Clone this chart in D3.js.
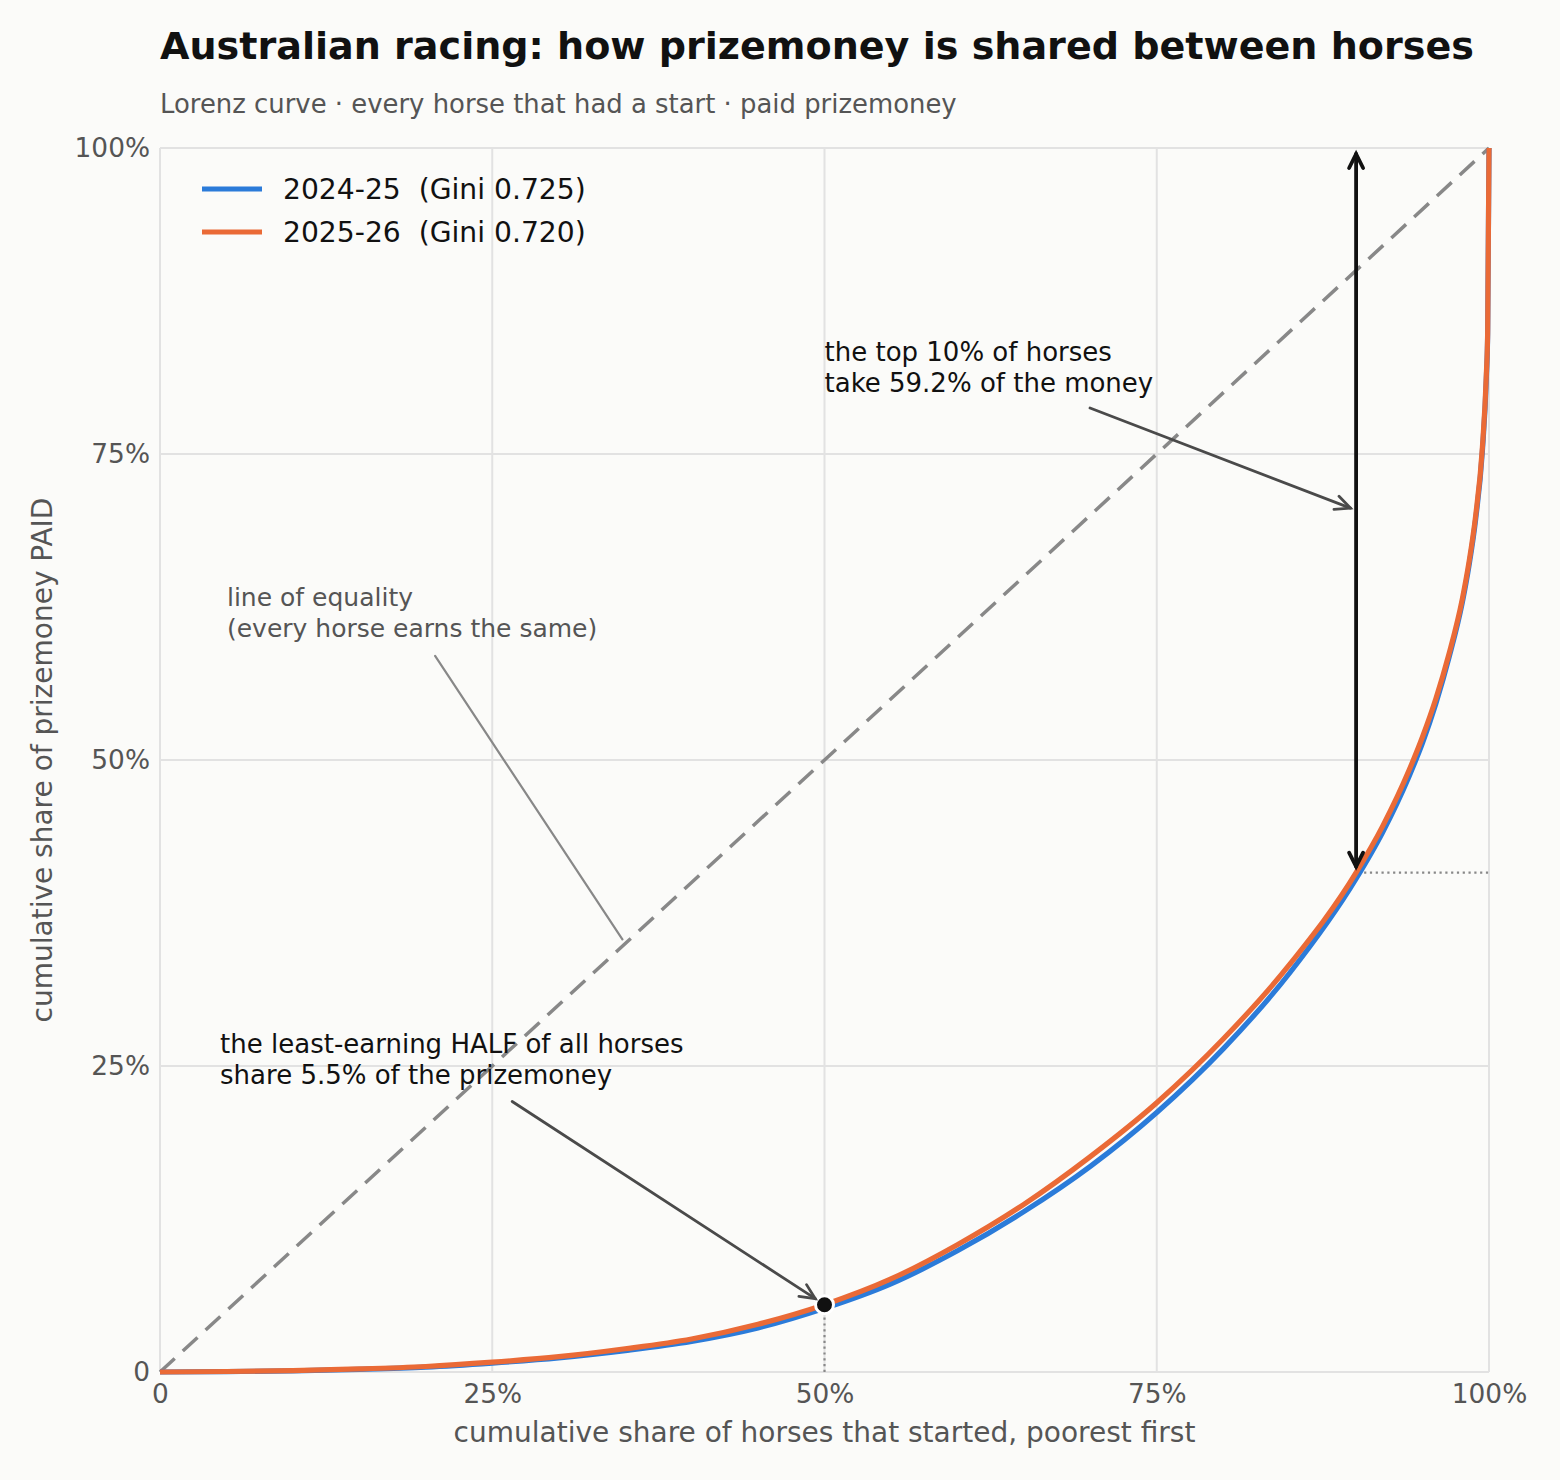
<!DOCTYPE html>
<html>
<head>
<meta charset="utf-8">
<script src="https://cdn.jsdelivr.net/npm/d3@7"></script>
<style>
  body { margin: 0; background: #fbfbf9; }
  svg { display: block; font-family: "DejaVu Sans", sans-serif; }
</style>
</head>
<body>
<div id="chart"></div>
<script>
/* DATA */
// cumulative share of horses (poorest first)
const popShare = [0, 0.05, 0.10, 0.15, 0.20, 0.25, 0.30, 0.35, 0.40, 0.45, 0.50, 0.55, 0.60, 0.65, 0.70,
  0.75, 0.80, 0.85, 0.90, 0.92, 0.94, 0.95, 0.96, 0.97, 0.98, 0.985, 0.99, 0.995, 0.998, 0.999, 1.0];
// cumulative share of prizemoney
const money2425 = [0, 0.0003, 0.0010, 0.0022, 0.0040, 0.0073, 0.0115, 0.0175, 0.025, 0.036, 0.052, 0.072, 0.099, 0.131, 0.168,
  0.212, 0.264, 0.326, 0.403, 0.441, 0.487, 0.514, 0.546, 0.584, 0.629, 0.659, 0.697, 0.752, 0.812, 0.848, 1.0];
const money2526 = [0, 0.0004, 0.0012, 0.0025, 0.0045, 0.0080, 0.0125, 0.019, 0.027, 0.039, 0.055, 0.076, 0.104, 0.137, 0.176,
  0.220, 0.272, 0.333, 0.408, 0.446, 0.492, 0.519, 0.550, 0.587, 0.632, 0.662, 0.700, 0.755, 0.815, 0.850, 1.0];
const seasons = ["2024-25", "2025-26"];
const giniValues = [0.725, 0.720];
const tickValues = [0, 0.25, 0.5, 0.75, 1];
const tickLabels = ["0", "25%", "50%", "75%", "100%"];
const bottomHalfShare = 0.055;   // least-earning half
const top10Share = 0.592;        // top 10%

/* CONSTANTS */
const width = 1560, height = 1480,
  margin = { top: 148, bottom: 108, left: 160, right: 71 };
const colors = ["#2b7bd9", "#ea6a36"];
const grey = "#555";

const svg = d3.select("#chart").append("svg")
  .attr("width", width)
  .attr("height", height);

svg.append("rect").attr("width", width).attr("height", height).attr("fill", "#fbfbf9");

const xScale = d3.scaleLinear().domain([0, 1]).range([margin.left, width - margin.right]);
const yScale = d3.scaleLinear().domain([0, 1]).range([height - margin.bottom, margin.top]);

// grid
svg.append("g").selectAll("line.gx").data(tickValues).join("line")
  .attr("x1", d => xScale(d)).attr("x2", d => xScale(d))
  .attr("y1", yScale(0)).attr("y2", yScale(1))
  .attr("stroke", "#e2e2e2").attr("stroke-width", 2);
svg.append("g").selectAll("line.gy").data(tickValues).join("line")
  .attr("y1", d => yScale(d)).attr("y2", d => yScale(d))
  .attr("x1", xScale(0)).attr("x2", xScale(1))
  .attr("stroke", "#e2e2e2").attr("stroke-width", 2);

// axes (labels only, no tick marks or domain)
const xAxis = d3.axisBottom(xScale).tickValues(tickValues)
  .tickFormat((d, i) => tickLabels[i]).tickSize(0).tickPadding(12);
const yAxis = d3.axisLeft(yScale).tickValues(tickValues)
  .tickFormat((d, i) => tickLabels[i]).tickSize(0).tickPadding(10);

svg.append("g")
  .attr("transform", `translate(0,${yScale(0)})`)
  .call(xAxis)
  .call(g => g.select(".domain").remove())
  .selectAll("text").attr("font-size", 26.4).attr("fill", grey).attr("font-family", "DejaVu Sans");

svg.append("g")
  .attr("transform", `translate(${xScale(0)},0)`)
  .call(yAxis)
  .call(g => g.select(".domain").remove())
  .selectAll("text").attr("font-size", 26.4).attr("fill", grey).attr("font-family", "DejaVu Sans");

// axis titles
svg.append("text")
  .attr("x", (xScale(0) + xScale(1)) / 2).attr("y", 1442)
  .attr("text-anchor", "middle").attr("font-size", 28).attr("fill", grey)
  .text("cumulative share of horses that started, poorest first");

svg.append("text")
  .attr("transform", `translate(52,${(yScale(0) + yScale(1)) / 2}) rotate(-90)`)
  .attr("text-anchor", "middle").attr("font-size", 28).attr("fill", grey)
  .text("cumulative share of prizemoney PAID");

// title + subtitle
svg.append("text").attr("x", 160).attr("y", 59)
  .attr("font-size", 38.1).attr("font-weight", "bold").attr("fill", "#111")
  .text("Australian racing: how prizemoney is shared between horses");
svg.append("text").attr("x", 160).attr("y", 113)
  .attr("font-size", 25.9).attr("fill", grey)
  .text("Lorenz curve \u00b7 every horse that had a start \u00b7 paid prizemoney");

// line of equality
svg.append("line")
  .attr("x1", xScale(0)).attr("y1", yScale(0))
  .attr("x2", xScale(1)).attr("y2", yScale(1))
  .attr("stroke", "#888").attr("stroke-width", 3.5)
  .attr("stroke-dasharray", "20,11");

// dotted guides
svg.append("line")
  .attr("x1", xScale(0.5)).attr("x2", xScale(0.5))
  .attr("y1", yScale(0)).attr("y2", yScale(bottomHalfShare))
  .attr("stroke", "#888").attr("stroke-width", 2.2).attr("stroke-dasharray", "2.2,3.6");
svg.append("line")
  .attr("x1", xScale(0.9) + 8).attr("x2", xScale(1))
  .attr("y1", yScale(1 - top10Share)).attr("y2", yScale(1 - top10Share))
  .attr("stroke", "#888").attr("stroke-width", 2.2).attr("stroke-dasharray", "2.2,3.6");

// Lorenz curves
const series = [money2425, money2526];
const line = d3.line()
  .x((d, i) => xScale(popShare[i]))
  .y(d => yScale(d))
  .curve(d3.curveMonotoneX);

svg.append("g").selectAll("path").data(series).join("path")
  .attr("d", d => line(d))
  .attr("fill", "none")
  .attr("stroke", (d, i) => colors[i])
  .attr("stroke-width", 5.2)
  .attr("stroke-linejoin", "round");

// bottom-half marker
svg.append("circle")
  .attr("cx", xScale(0.5)).attr("cy", yScale(bottomHalfShare))
  .attr("r", 9).attr("fill", "#111")
  .attr("stroke", "#fff").attr("stroke-width", 3);

/* ANNOTATIONS */
// draw a straight line with open chevron heads; shrink ends by sa/sb px
function arrow(p0, p1, opts) {
  const { color, width: w, sa = 0, sb = 0, headStart = false, headEnd = true, len = 15, half = 8 } = opts;
  const dx = p1[0] - p0[0], dy = p1[1] - p0[1];
  const L = Math.hypot(dx, dy), ux = dx / L, uy = dy / L;
  const a = [p0[0] + ux * sa, p0[1] + uy * sa];
  const b = [p1[0] - ux * sb, p1[1] - uy * sb];
  const g = svg.append("g").attr("stroke", color).attr("stroke-width", w)
    .attr("fill", "none").attr("stroke-linecap", "round").attr("stroke-linejoin", "miter");
  g.append("line").attr("x1", a[0]).attr("y1", a[1]).attr("x2", b[0]).attr("y2", b[1]);
  const head = (tip, vx, vy) => {
    const bx = tip[0] - vx * len, by = tip[1] - vy * len;
    g.append("path").attr("d", d3.line()([
      [bx - vy * half, by + vx * half], tip, [bx + vy * half, by - vx * half]
    ]));
  };
  if (headEnd) head(b, ux, uy);
  if (headStart) head(a, -ux, -uy);
}

// top 10% double arrow
arrow([xScale(0.9), yScale(1 - top10Share)], [xScale(0.9), yScale(1)],
  { color: "#111", width: 3.8, sa: 6, sb: 6, headStart: true, headEnd: true, len: 14, half: 7 });

// top 10% text + pointer
const topText = svg.append("text").attr("x", xScale(0.5)).attr("y", 361)
  .attr("font-size", 26).attr("fill", "#111");
topText.append("tspan").attr("x", xScale(0.5)).text("the top 10% of horses");
topText.append("tspan").attr("x", xScale(0.5)).attr("dy", 31)
  .text(`take ${(top10Share * 100).toFixed(1)}% of the money`);
arrow([xScale(0.6998), yScale(0.7876)], [xScale(0.9), yScale((1 + (1 - top10Share)) / 2)],
  { color: "#4a4a4a", width: 2.8, sb: 6, len: 15, half: 7 });

// bottom half text + pointer
const botText = svg.append("text").attr("x", xScale(0.0452)).attr("y", 1053)
  .attr("font-size", 26).attr("fill", "#111");
botText.append("tspan").attr("x", xScale(0.0452)).text("the least-earning HALF of all horses");
botText.append("tspan").attr("x", xScale(0.0452)).attr("dy", 31)
  .text(`share ${(bottomHalfShare * 100).toFixed(1)}% of the prizemoney`);
arrow([xScale(0.265), yScale(0.221)], [xScale(0.5), yScale(bottomHalfShare)],
  { color: "#4a4a4a", width: 2.8, sb: 11, len: 15, half: 7 });

// equality label + connector
const eqText = svg.append("text").attr("x", xScale(0.0504)).attr("y", 606)
  .attr("font-size", 25).attr("fill", grey);
eqText.append("tspan").attr("x", xScale(0.0504)).text("line of equality");
eqText.append("tspan").attr("x", xScale(0.0504)).attr("dy", 30.5).text("(every horse earns the same)");
arrow([xScale(0.207), yScale(0.585)], [xScale(0.35), yScale(0.35)],
  { color: "#888", width: 2.2, sb: 5, headEnd: false });

// legend
const legend = svg.append("g").attr("transform", "translate(202,189)");
const items = legend.selectAll("g").data(seasons).join("g")
  .attr("transform", (d, i) => `translate(0,${i * 43})`);
items.append("line").attr("x1", 0).attr("x2", 60)
  .attr("stroke", (d, i) => colors[i]).attr("stroke-width", 5);
items.append("text").attr("x", 81).attr("y", 10)
  .attr("font-size", 28.2).attr("fill", "#111")
  .attr("xml:space", "preserve").style("white-space", "pre")
  .text((d, i) => `${d}  (Gini ${giniValues[i].toFixed(3)})`);
</script>
</body>
</html>
